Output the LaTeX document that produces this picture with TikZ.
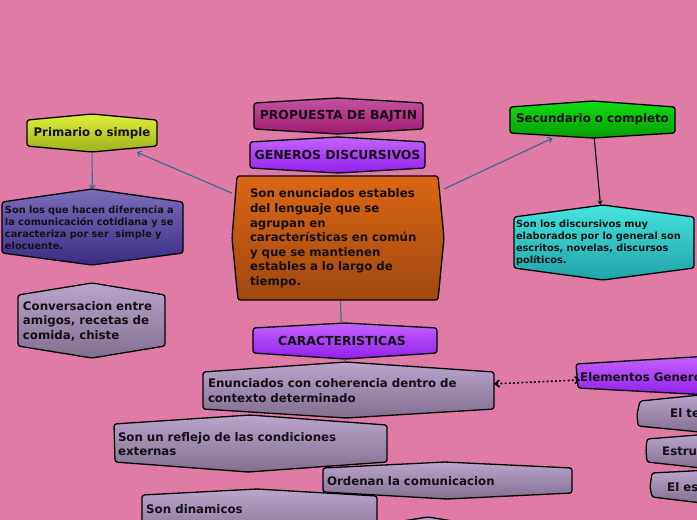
\documentclass[tikz,border=0pt]{standalone}
\usepackage{fontspec}
\setmainfont{DejaVu Sans}
\usetikzlibrary{arrows.meta}
\definecolor{bg}{RGB}{224,123,165}
\definecolor{txtc}{RGB}{20,16,20}
\definecolor{linkc}{RGB}{44,110,142}
\definecolor{magT}{RGB}{196,82,160}
\definecolor{magB}{RGB}{160,26,112}
\definecolor{purT}{RGB}{196,98,255}
\definecolor{purB}{RGB}{146,32,234}
\definecolor{oraT}{RGB}{220,102,20}
\definecolor{oraB}{RGB}{158,72,16}
\definecolor{yelT}{RGB}{222,238,54}
\definecolor{yelB}{RGB}{158,178,28}
\definecolor{bluT}{RGB}{124,110,186}
\definecolor{bluB}{RGB}{58,44,132}
\definecolor{gryT}{RGB}{186,166,206}
\definecolor{gryB}{RGB}{130,110,142}
\definecolor{grnT}{RGB}{18,222,18}
\definecolor{grnB}{RGB}{6,156,6}
\definecolor{cyaT}{RGB}{70,228,222}
\definecolor{cyaB}{RGB}{32,162,168}
\newcommand\bigf{\fontsize{11.8}{14.6}\selectfont\bfseries}
\newcommand\capf{\fontsize{12.4}{14.6}\selectfont\bfseries}
\newcommand\smallf{\fontsize{9.8}{12}\selectfont\bfseries}
\begin{document}
\begin{tikzpicture}[x=1pt,y=-1pt,
  shp/.style={draw=black, line width=1.3pt, rounded corners=2.5pt, line join=round},
  mag/.style={shp, top color=magT, bottom color=magB},
  pur/.style={shp, top color=purT, bottom color=purB},
  ora/.style={shp, top color=oraT, bottom color=oraB},
  yel/.style={shp, top color=yelT, bottom color=yelB},
  blu/.style={shp, top color=bluT, bottom color=bluB},
  gry/.style={shp, top color=gryT, bottom color=gryB},
  grn/.style={shp, top color=grnT, bottom color=grnB},
  cya/.style={shp, top color=cyaT, bottom color=cyaB},
  txt/.style={inner sep=0pt, text=txtc, font=\bigf},
  ctxt/.style={inner sep=0pt, text=txtc, font=\capf},
  stxt/.style={inner sep=0pt, text=txtc, font=\smallf},
  link/.style={draw=linkc, line width=1.1pt},
  arr/.style={-{Straight Barb[length=3.5pt,width=6pt]}},
  dots/.style={draw=black, line width=1.6pt, dash pattern=on 2pt off 2.2pt,
    {Straight Barb[length=4pt,width=7pt]}-{Straight Barb[length=4pt,width=7pt]}}
]
\useasboundingbox (0,0) rectangle (697,520);
\clip (0,0) rectangle (697,520);
\fill[bg] (0,0) rectangle (697,520);

% PROPUESTA DE BAJTIN
\path[mag] (254,103) -- (338,98) -- (423,103) -- (423,129) -- (338,134) -- (254,129) -- cycle;
\node[ctxt, minimum width=169pt, minimum height=31pt] (prop) at (338.5,116) {PROPUESTA DE BAJTIN};

% GENEROS DISCURSIVOS
\path[pur] (250,142) -- (338,137) -- (425,142) -- (425,168) -- (338,173) -- (250,168) -- cycle;
\node[ctxt, minimum width=175pt, minimum height=31pt] (gen) at (337.5,155) {GENEROS DISCURSIVOS};

% central
\path[ora] (237,176) -- (438,176) -- (444,238) -- (438,300) -- (238,300) -- (232,238) -- cycle;
\node[txt, minimum width=212pt, minimum height=124pt, text width=176pt, align=left] (cent) at (338,238.5)
  {Son enunciados estables\\del lenguaje que se\\agrupan en\\características en común\\y que se mantienen\\estables a lo largo de\\tiempo.};

% Primario
\path[yel] (27,120) -- (92,114) -- (157,120) -- (157,146) -- (92,152) -- (27,146) -- cycle;
\node[txt, minimum width=130pt, minimum height=38pt] (prim) at (92,133) {Primario o simple};

% blue
\path[blu] (2,202) -- (92,189) -- (183,202) -- (183,253) -- (92,265) -- (2,253) -- cycle;
\node[stxt, minimum width=181pt, minimum height=76pt, text width=175pt, align=left] (blue) at (92.5,227.5)
  {Son los que hacen diferencia a\\la comunicación cotidiana y se\\caracteriza por ser~ simple y\\elocuente.};

% Conversacion
\path[gry] (18,295) -- (92,283) -- (165,295) -- (165,346) -- (92,358) -- (18,346) -- cycle;
\node[txt, minimum width=147pt, minimum height=75pt, text width=137pt, align=left] (conv) at (91.5,321)
  {Conversacion entre\\amigos, recetas de\\comida, chiste};

% Secundario
\path[grn] (510,107) -- (593,101) -- (675,107) -- (675,133) -- (593,138) -- (510,133) -- cycle;
\node[txt, minimum width=165pt, minimum height=37pt] (sec) at (592.5,119.5) {Secundario o completo};

% cyan
\path[cya] (514,217) -- (603,205) -- (694,217) -- (694,268) -- (603,280) -- (514,268) -- cycle;
\node[stxt, minimum width=180pt, minimum height=75pt, text width=176pt, align=left] (cyan) at (604,243)
  {Son los discursivos muy\\elaborados por lo general son\\escritos, novelas, discursos\\políticos.};

% CARACTERISTICAS
\path[pur] (253,328) -- (345,323) -- (437,328) -- (437,353) -- (345,359) -- (253,353) -- cycle;
\node[ctxt, minimum width=184pt, minimum height=36pt] (carac) at (342,341) {CARACTERISTICAS};

% Enunciados
\path[gry] (203,372) -- (346,362) -- (494,372) -- (494,409) -- (346,418) -- (203,409) -- cycle;
\node[txt, minimum width=291pt, minimum height=56pt, text width=281pt, align=left] (enun) at (348.5,390.5)
  {Enunciados con coherencia dentro de\\contexto determinado};

% Reflejo
\path[gry] (114,424) -- (250,415) -- (387,425) -- (387,462) -- (248,472) -- (115,462) -- cycle;
\node[txt, minimum width=273pt, minimum height=57pt, text width=265pt, align=left] (refl) at (250.5,444)
  {Son un reflejo de las condiciones\\externas};

% Ordenan
\path[gry] (323,468) -- (445,462) -- (572,468) -- (572,493) -- (447,499) -- (323,492) -- cycle;
\node[txt, minimum width=249pt, minimum height=37pt, text width=241pt, align=left] (ord) at (447.5,481)
  {Ordenan la comunicacion};

% Son dinamicos
\path[gry] (142,495) -- (257,489) -- (377,496) -- (377,540) -- (142,540) -- cycle;
\node[txt, anchor=west] (din) at (146,509) {Son dinamicos};

% partial box at the bottom
\path[gry] (390,523) -- (428,517) -- (465,523) -- (465,545) -- (390,545) -- cycle;

% Elementos
\path[pur] (576,364) -- (710,356) -- (710,395) -- (578,388) -- cycle;
\node[txt, anchor=west] (elem) at (580,377) {Elementos Generos};

% El te
\path[gry] (640,401) -- (710,394) -- (710,433) -- (638,426) -- (637,414) -- cycle;
\node[txt, anchor=west] (te) at (670,413) {El te};

% Estru
\path[gry] (647,439) -- (710,434) -- (710,469) -- (647,462) -- (646,450) -- cycle;
\node[txt, anchor=west] (estru) at (662,451) {Estru};

% El es
\path[gry] (652,473) -- (710,470) -- (710,504) -- (652,497) -- (650,487) -- cycle;
\node[txt, anchor=west] (es) at (667,487) {El es};

% connectors
\draw[link, arr] (cent) -- (prim);
\draw[link, arr] (prim) -- (blue);
\draw[link, arr] (cent) -- (sec);
\draw[line width=1.1pt, -{Stealth[length=5pt,width=5pt]}] (sec) -- (cyan);
\draw[link] (cent) -- (carac);
\draw[link] (carac) -- (enun);
\draw[dots] (enun) -- (elem);
\end{tikzpicture}
\end{document}
